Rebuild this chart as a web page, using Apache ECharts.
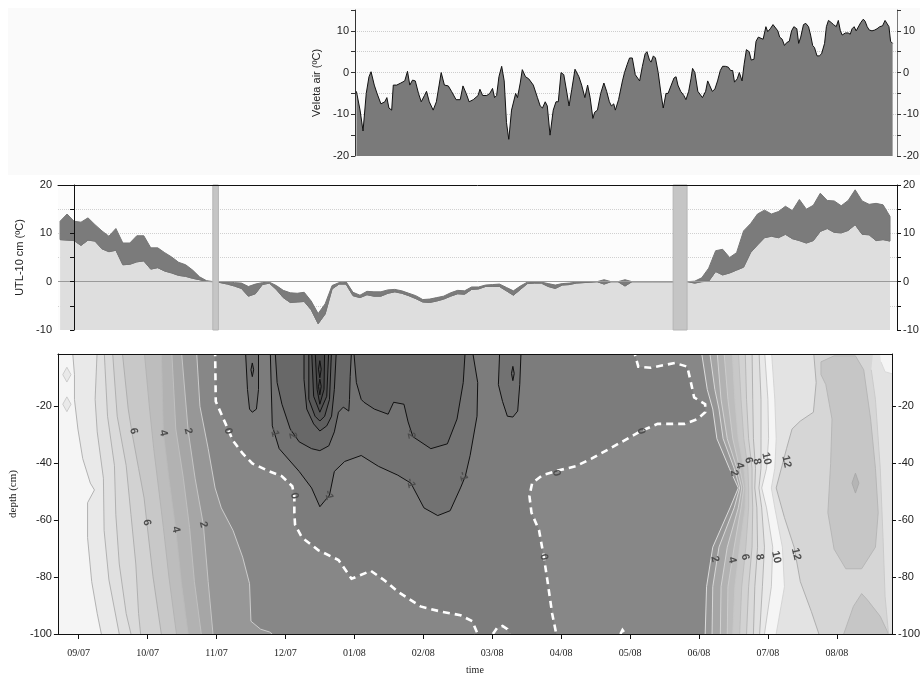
<!DOCTYPE html>
<html>
<head>
<meta charset="utf-8">
<script src="https://cdn.jsdelivr.net/npm/echarts@6/dist/echarts.min.js"></script>
<style>html,body{margin:0;padding:0;background:#fff}#c{width:923px;height:676px}</style>
</head>
<body>
<div id="c"></div>
<script>
// ---------------- axis ticks (x unit = months since 09/2007) ----------------
const monthTicks = [0,1,2,3,4,5,6,7,8,9,10,11];
const monthLabels = ['09/07','10/07','11/07','12/07','01/08','02/08','03/08','04/08','05/08','06/08','07/08','08/08'];
const depthTicks = [-100,-80,-60,-40,-20];

// ---------------- Veleta air temperature (days after start) ----------------
const veletaStartMonth = 4.05;
const veletaDay = [0,1.6,2.9,4.3,5.5,6.4,7.8,9.0,10.7,12.4,13.3,14.2,15.4,16.1,17.6,19.4,21.1,22.3,23.3,24.5,25.7,27.1,28.3,29.7,30.6,31.8,33.5,34.9,36.1,37.0,38.4,40.1,41.5,43.5,45.3,46.5,47.9,49.2,51.0,53.1,53.9,55.1,56.9,58.2,59.4,60.3,61.2,62.2,63.4,64.5,65.5,66.5,67.7,69.5,70.3,71.5,72.4,73.8,75.2,77.2,79.0,80.2,81.2,82.4,83.3,84.5,85.9,87.1,88.1,89.3,90.5,91.9,92.8,94.0,95.4,97.1,98.3,99.7,100.9,102.0,103.2,104.0,105.2,106.6,108.0,109.2,110.4,111.3,112.3,113.0,114.4,116.1,117.0,118.2,119.2,120.4,121.7,122.5,123.6,124.8,126.0,126.8,127.9,128.6,129.6,130.5,131.7,132.9,133.9,135.1,136.0,137.4,138.6,139.5,140.3,141.5,142.9,143.8,145.0,146.0,146.7,147.7,149.0,149.8,151.0,152.4,153.3,154.1,155.3,156.4,157.6,158.8,159.8,161.0,162.3,163.3,164.2,165.0,166.2,167.1,168.3,169.2,170.2,171.4,172.3,173.5,174.4,175.4,176.6,177.5,178.7,179.5,180.6,181.8,182.6,183.9,184.7,185.8,186.8,187.8,188.9,189.9,190.9,192.2,193.0,193.9,195.1,196.1,197.3,198.2,199.1,199.9,201.0,202.0,203.0,204.3,205.1,206.0,207.2,208.2,209.4,210.3,211.2,212.0,213.4,214.6,215.5,216.3,217.2,218.1,218.9,220.1,221.2,222.0,222.9,223.8,225.0,226.2,227.2,228.4,229.6,230.7,231.5,232.4,233.1,234.0];
const veletaTemp = [-4.5,-9,-14,-5,-1,0.2,-3,-5,-7.5,-7,-6,-8.5,-9,-3,-3,-2.5,-2,0.3,-3,-1.8,-2,-5,-7,-5.5,-4.5,-7,-9,-7,-3,0,-3,-3.2,-4.5,-6.5,-6.5,-3.2,-5,-7,-6.5,-5.5,-4,-5.5,-5.5,-5,-3.8,-6,-5.5,-1,1.5,-2,-12,-16,-9,-5,-6,-2.5,0.7,-1,-1.5,-3,-6,-8,-8.5,-7,-8,-15,-9,-7,-7,0,-0.5,-5,-8,-4,0.8,-1,-3,-6,-3,-6,-11,-9.5,-9,-5,-2.5,-4.5,-7,-8,-7.5,-9,-6.5,-2,0,2,3.5,3.5,-0.5,-0.5,-2,1.5,4.5,5,3,2.5,4,3.5,0,-5,-8.5,-5,-5,-3,-1.3,-1,-3,-4.5,-5.5,-6.5,-4.5,-1.5,1,0,-4.5,-4.5,-6,-4.5,-2,-3,-4.5,-4,-2,0.5,1.5,1.5,1.3,0.5,0.5,-2.3,-1.5,0,-2,2,5.5,5,3,3.2,7.5,8.5,8.2,8,11,9.8,10.5,11.5,11.5,10,8.5,8,6.5,7.2,7.5,10,11,10.5,7,8.5,11.5,11.8,11,9,6.5,6,4,4,4.5,7,11,12.5,12,11.5,11,12.5,10,9,9.5,9.5,9.2,10.5,11,10,10.2,12,12.8,12.3,11,10.2,10,10.2,10.5,11,11.2,12.5,12.8,11,7.5,7];

// ---------------- UTL -10 cm : daily-cycle envelope ----------------
const utlStartMonth = -0.2;
const utlStepMonth = 0.1;
const utlHigh = [12.5,14.0,12.5,12.3,13.2,11.8,10.5,9.4,11.0,8.0, 8.0,9.5,9.5,7.0,7.0,6.0,5.1,4.0,3.5,2.4, 1.0,0.2,0,0,0,-0.2,-0.3,-1.0,-0.5,-0.2, -0.1,-0.8,-1.8,-2.3,-2.4,-2.2,-4.0,-6.6,-4.6,-0.8, -0.2,0,-2.2,-2.8,-2.0,-2.1,-2.1,-1.7,-1.6,-1.9, -2.4,-2.9,-3.7,-3.6,-3.3,-3.0,-2.3,-1.8,-1.9,-1.1, -1.1,-0.7,-0.6,-0.5,-1.2,-1.9,-0.9,-0.1,0,-0.1, -0.4,-0.7,-0.4,-0.3,-0.1,0,0,0,0.4,0, 0,0.4,0,0,0,0,0,0,0,0, 0,0.1,0.8,2.8,6.4,6.7,5.0,6.0,10.5,12.0, 14.0,14.8,14.0,14.5,15.6,14.7,17.0,15.0,15.8,18.3, 16.8,16.7,15.7,16.8,19.0,16.7,16.0,16.2,15.9,13.5];
const utlLow = [8.7,8.6,8.5,7.5,8.6,8.4,6.8,6.2,6.5,3.5, 3.6,4.1,4.3,2.6,2.9,2.2,1.8,1.3,1.1,0.7, 0.4,0.05,0,-0.2,-0.5,-0.9,-1.4,-3.0,-2.5,-0.6, -0.3,-1.6,-3.3,-4.3,-4.2,-4.1,-5.8,-8.7,-6.7,-1.5, -0.5,-0.5,-2.9,-3.3,-2.7,-3.0,-3.0,-2.4,-2.1,-2.4, -2.9,-3.5,-4.2,-4.3,-4.0,-3.6,-3.0,-2.5,-2.6,-1.6, -1.5,-1.0,-1.0,-1.0,-1.9,-2.8,-1.6,-0.4,-0.3,-0.3, -1.0,-1.4,-0.7,-0.6,-0.3,-0.2,-0.1,0,-0.5,0, 0,-0.9,0,0,0,0,0,0,0,0, 0,-0.3,0,0.1,2.1,1.4,1.8,2.4,3.0,6.0, 7.6,9.1,9.4,9.1,9.8,8.9,8.5,8.0,8.5,10.4, 11.0,10.2,10.1,10.6,11.8,9.8,9.7,8.5,8.7,8.4];
const gapBands = [[1.99,2.07],[8.59,8.79]];

// ---------------- soil temperature isotherms [month, depth cm] ----------------
const iso12 = [[10.66,0],[10.70,-11.7],[10.66,-22.1],[10.47,-25.2],[10.35,-28],[10.27,-34.9],[10.12,-48.7],[10.24,-59.1],[10.38,-69.5],[10.47,-81.6],[10.63,-92.1],[10.74,-100]];
const iso11 = [[10.05,0],[10.10,-17.6],[10.12,-31.4],[10.10,-41.8],[10.05,-48.7],[10.10,-55.7],[10.21,-69.5],[10.24,-83.4],[10.12,-100]];
const iso10r = [[9.95,0],[10.00,-17.6],[10.01,-31.4],[9.98,-41.8],[9.91,-48.7],[9.98,-55.7],[10.07,-69.5],[10.05,-83.4],[9.95,-100]];
const iso9r = [[9.87,0],[9.90,-17.6],[9.90,-31.4],[9.90,-41.8],[9.87,-48.7],[9.91,-55.7],[9.95,-69.5],[9.92,-83.4],[9.88,-100]];
const iso8r = [[9.77,0],[9.78,-17.6],[9.79,-31.4],[9.82,-41.8],[9.81,-48.7],[9.84,-55.7],[9.85,-69.5],[9.81,-83.4],[9.79,-100]];
const iso7r = [[9.67,0],[9.69,-17.6],[9.72,-31.4],[9.77,-41.8],[9.77,-48.7],[9.78,-55.7],[9.77,-69.5],[9.72,-83.4],[9.69,-100]];
const iso6r = [[9.57,0],[9.61,-17.6],[9.65,-31.4],[9.71,-41.8],[9.72,-48.7],[9.72,-55.7],[9.68,-69.5],[9.62,-83.4],[9.59,-100]];
const iso5r = [[9.48,0],[9.52,-17.6],[9.57,-31.4],[9.65,-41.8],[9.68,-48.7],[9.67,-55.7],[9.59,-69.5],[9.52,-83.4],[9.49,-100]];
const iso4r = [[9.36,0],[9.42,-17.6],[9.49,-31.4],[9.59,-41.8],[9.65,-48.7],[9.61,-55.7],[9.51,-69.5],[9.42,-83.4],[9.41,-100]];
const iso3r = [[9.26,0],[9.32,-17.6],[9.41,-31.4],[9.55,-41.8],[9.62,-48.7],[9.57,-55.7],[9.41,-69.5],[9.32,-83.4],[9.31,-100]];
const iso2r = [[9.15,0],[9.23,-14.1],[9.29,-21.0],[9.35,-31.4],[9.51,-41.8],[9.59,-48.7],[9.51,-55.7],[9.29,-69.5],[9.20,-83.4],[9.19,-100]];
const iso1r = [[9.03,0],[9.12,-14.1],[9.20,-21.0],[9.26,-31.4],[9.44,-41.8],[9.57,-48.7],[9.45,-55.7],[9.20,-69.5],[9.11,-83.4],[9.09,-100]];
const zeroRight = [[8.05,0],[8.12,-6.1],[8.30,-6.5],[8.65,-4.8],[8.83,-6.1],[8.88,-11.3],[8.93,-16.9],[9.09,-19.3],[9.09,-22.1],[8.98,-24.5],[8.79,-26.2],[8.40,-26.2],[8.16,-28.7],[7.83,-33.2],[7.44,-38.4],[7.21,-41.1],[6.97,-42.5],[6.73,-44.2],[6.58,-47.0],[6.54,-51.5],[6.57,-57.4],[6.68,-63.6],[6.75,-73.0],[6.80,-81.0],[6.87,-92.8],[6.93,-100]];
const zeroLeft = [[1.98,0],[1.99,-18.3],[2.09,-23.8],[2.24,-32.1],[2.38,-36.6],[2.52,-40.1],[2.77,-42.9],[2.95,-44.6],[3.10,-48.1],[3.13,-51.5],[3.13,-57.4],[3.14,-61.6],[3.24,-66.1],[3.48,-70.6],[3.77,-74.0],[3.96,-80.6],[4.24,-77.8],[4.43,-81.0],[4.63,-85.1],[4.96,-90.3],[5.25,-92.1],[5.54,-93.4],[5.71,-95.5],[5.79,-100]];
const zeroBump = [[6.01,-100],[6.07,-97.9],[6.15,-97.2],[6.22,-98.3],[6.25,-100]];
const zeroBump2 = [[7.86,-100],[7.89,-98.6],[7.93,-100]];
const iso1l = [[1.71,0],[1.76,-20.0],[1.88,-34.9],[1.98,-48.7],[2.07,-55.7],[2.24,-63.6],[2.38,-73.0],[2.48,-82.3],[2.50,-95.5],[2.64,-98.3],[2.77,-99.3],[2.81,-100]];
const iso2l = [[1.49,0],[1.59,-28.7],[1.69,-45.3],[1.81,-61.6],[1.88,-81.6],[1.95,-100]];
const iso3l = [[1.35,0],[1.41,-28.0],[1.52,-45.3],[1.61,-62.6],[1.68,-81.6],[1.78,-100]];
const iso4l = [[1.20,0],[1.23,-29.4],[1.31,-45.3],[1.41,-63.3],[1.49,-81.6],[1.59,-100]];
const iso5l = [[0.95,0],[1.03,-21.0],[1.09,-34.9],[1.16,-48.7],[1.23,-62.6],[1.31,-79.9],[1.42,-100]];
const iso6l = [[0.63,0],[0.72,-21.0],[0.77,-28.7],[0.87,-41.8],[0.95,-52.2],[0.99,-60.9],[1.08,-79.9],[1.20,-100]];
const iso7l = [[0.49,0],[0.56,-23.5],[0.69,-40.8],[0.76,-58.1],[0.83,-75.4],[0.87,-92.8],[0.90,-100]];
const iso8l = [[0.37,0],[0.42,-23.5],[0.52,-40.8],[0.54,-58.1],[0.59,-75.4],[0.69,-92.8],[0.76,-100]];
const iso9l = [[0.27,0],[0.24,-17.6],[0.27,-29.0],[0.36,-45.3],[0.37,-63.6],[0.44,-81.0],[0.59,-100]];
const iso10l = [[-0.09,0],[-0.06,-8.9],[-0.06,-17.6],[-0.01,-28.0],[0.06,-38.4],[0.17,-47.0],[0.23,-49.4],[0.13,-53.9],[0.13,-66.1],[0.19,-81.6],[0.27,-92.8],[0.33,-100]];
const negBig = [[2.78,0],[2.81,-26.9],[2.91,-34.9],[3.20,-42.9],[3.38,-48.7],[3.50,-55.3],[3.64,-51.2],[3.71,-42.9],[3.86,-39.4],[4.10,-37.3],[4.35,-41.1],[4.63,-44.2],[4.82,-47.0],[5.01,-55.7],[5.21,-58.4],[5.39,-56.7],[5.54,-48.7],[5.61,-44.6],[5.68,-37.3],[5.78,-23.5],[5.79,-11.7],[5.71,0]];
const negLoopA = [[2.42,0],[2.45,-14.1],[2.48,-21.0],[2.52,-22.1],[2.58,-21.0],[2.61,-14.1],[2.61,0]];
const negLoopB = [[6.11,0],[6.09,-12.4],[6.15,-18.3],[6.22,-23.5],[6.30,-23.8],[6.37,-21.7],[6.40,-12.4],[6.42,0]];
const negDotA = [[2.50,-7.2],[2.52,-9.6],[2.54,-7.2],[2.52,-4.8]];
const negDotB = [[6.28,-8.5],[6.30,-11.0],[6.32,-8.5],[6.30,-6.0]];
const neg2Left = [[2.85,0],[2.88,-11.7],[2.95,-19.3],[3.07,-28.0],[3.20,-32.5],[3.38,-34.9],[3.50,-35.6],[3.63,-33.9],[3.71,-29.0],[3.77,-22.1],[3.84,-20.3],[3.92,-21.7],[3.93,-17.6],[3.94,-9.6],[3.96,0]];
const neg2Right = [[3.99,0],[4.03,-11.7],[4.10,-17.6],[4.14,-18.6],[4.29,-21.0],[4.49,-22.8],[4.57,-18.6],[4.72,-19.3],[4.78,-25.5],[4.85,-30.7],[5.11,-34.9],[5.35,-33.2],[5.49,-24.5],[5.58,-11.7],[5.61,0]];
const neg3 = [[3.27,0],[3.27,-10.6],[3.31,-21.0],[3.41,-26.2],[3.50,-28.7],[3.60,-26.9],[3.67,-23.5],[3.71,-14.1],[3.74,0]];
const neg4 = [[3.34,0],[3.34,-17.6],[3.43,-23.5],[3.50,-25.2],[3.57,-23.5],[3.64,-17.6],[3.67,0]];
const neg5 = [[3.38,0],[3.41,-16.5],[3.50,-22.1],[3.60,-16.5],[3.63,0]];
const neg6 = [[3.43,0],[3.46,-14.1],[3.50,-19.3],[3.56,-14.1],[3.57,0]];
const neg7a = [[3.48,-7],[3.50,-10],[3.52,-7],[3.50,-4]];
const neg7b = [[3.48,-13],[3.50,-16],[3.52,-13],[3.50,-10.5]];
const warmBlobA = [[10.77,-4.4],[10.96,-2.3],[11.27,-2.3],[11.39,-7.2],[11.49,-24.5],[11.56,-41.8],[11.60,-57.4],[11.56,-69.5],[11.36,-77.1],[11.13,-77.1],[10.96,-70.2],[10.87,-57.4],[10.91,-40.1],[10.93,-24.5],[10.84,-12.4],[10.77,-8.9]];
const warmDot = [[11.22,-47],[11.27,-50.5],[11.32,-47],[11.27,-43.5]];
const warmBlobB = [[11.10,-100],[11.24,-90.3],[11.36,-85.8],[11.44,-87.9],[11.63,-93.8],[11.75,-100]];
const edgeStrip = [[11.53,0],[11.85,0],[11.85,-100],[11.75,-100],[11.70,-86.8],[11.67,-66.1],[11.63,-41.8],[11.56,-17.6],[11.50,-7.2]];
const edgeWarm = [[11.62,0],[11.85,0],[11.85,-8.9],[11.70,-7.9],[11.64,-4.4]];
const coolDotA = [[-0.23,-8.9],[-0.17,-6.3],[-0.11,-8.9],[-0.17,-11.5]];
const coolDotB = [[-0.23,-19.3],[-0.17,-16.7],[-0.11,-19.3],[-0.17,-21.9]];
const contourLabels = [[0.80,-28.7,'6'],[1.23,-29.4,'4'],[1.59,-28.7,'2'],[2.17,-28.7,'0'],[0.99,-60.9,'6'],[1.41,-63.3,'4'],[1.81,-61.6,'2'],
  [2.84,-29.0,'-1'],[3.10,-29.7,'-2'],[3.13,-51.5,'0'],[3.63,-51.2,'-1'],[4.82,-29.7,'-2'],[4.82,-47.0,'-1'],[5.58,-44.6,'-1'],
  [8.16,-28.7,'0'],[6.93,-43.5,'0'],[6.75,-73.0,'0'],
  [9.51,-43.5,'2'],[9.59,-40.8,'4'],[9.72,-39.0,'6'],[9.84,-39.4,'8'],[9.98,-38.4,'10'],[10.27,-39.4,'12'],
  [9.23,-73.7,'2'],[9.48,-74.0,'4'],[9.67,-73.0,'6'],[9.88,-73.0,'8'],[10.12,-73.0,'10'],[10.41,-71.9,'12']];

// ---------------- styles ----------------
const bandFill = {'-7':'#474747','-6':'#4f4f4f','-5':'#575757','-4':'#5f5f5f','-3':'#686868','-2':'#727272','-1':'#7c7c7c','0':'#878787','1':'#979797','2':'#a6a6a6','3':'#b2b2b2','4':'#bdbdbd','5':'#c8c8c8','6':'#d2d2d2','7':'#dadada','8':'#e0e0e0','9':'#e9e9e9','10':'#f5f5f5','11':'#e3e3e3','12':'#d6d6d6','13':'#c6c6c6','14':'#b5b5b5'};
const leftFills = [[iso12,'11'],[iso11,'10'],[iso10r,'9'],[iso9r,'8'],[iso8r,'7'],[iso7r,'6'],[iso6r,'5'],[iso5r,'4'],[iso4r,'3'],[iso3r,'2'],[iso2r,'1'],[iso1r,'0'],[zeroRight,'-1'],[zeroLeft,'0'],[iso1l,'1'],[iso2l,'2'],[iso3l,'3'],[iso4l,'4'],[iso5l,'5'],[iso6l,'6'],[iso7l,'7'],[iso8l,'8'],[iso9l,'9'],[iso10l,'10']];
const closedFills = [[negBig,'-2'],[negLoopA,'-2'],[negLoopB,'-2'],[negDotA,'-3'],[negDotB,'-3'],[neg2Left,'-3'],[neg2Right,'-3'],[neg3,'-4'],[neg4,'-5'],[neg5,'-6'],[neg6,'-7'],[neg7a,'-7'],[neg7b,'-7'],[zeroBump,'0'],[warmBlobA,'13'],[warmDot,'14'],[warmBlobB,'13'],[edgeStrip,'11'],[edgeWarm,'10'],[coolDotA,'9'],[coolDotB,'9']];
const contourLines = [
  [iso12,'#a9a9a9'],[iso11,'#d2d2d2'],[iso10r,'#c4c4c4'],[iso9r,'#b0b0b0'],[iso8r,'#acacac'],[iso7r,'#b4b4b4'],[iso6r,'#bcbcbc'],[iso5r,'#c6c6c6'],[iso4r,'#cecece'],[iso3r,'#d6d6d6'],[iso2r,'#dedede'],[iso1r,'#e4e4e4'],
  [iso1l,'#d4d4d4'],[iso2l,'#cacaca'],[iso3l,'#c2c2c2'],[iso4l,'#bababa'],[iso5l,'#b2b2b2'],[iso6l,'#ababab'],[iso7l,'#ababab'],[iso8l,'#ababab'],[iso9l,'#ababab'],[iso10l,'#ababab'],
  [warmBlobA,'#b4b4b4'],[warmDot,'#a8a8a8'],[warmBlobB,'#b4b4b4'],[edgeStrip,'#c8c8c8'],[edgeWarm,'#d8d8d8'],[coolDotA,'#c8c8c8'],[coolDotB,'#c8c8c8'],
  [negBig,'#111'],[negLoopA,'#111'],[negLoopB,'#111'],[negDotA,'#111'],[negDotB,'#111'],[neg2Left,'#111'],[neg2Right,'#111'],[neg3,'#111'],[neg4,'#111'],[neg5,'#111'],[neg6,'#111'],[neg7a,'#111'],[neg7b,'#111']];
const closedSet = new Set([warmBlobA,warmDot,negDotA,negDotB,neg7a,neg7b,coolDotA,coolDotB]);
const zeroLines = [zeroLeft, zeroRight, zeroBump, zeroBump2];

function renderContours(params, api) {
  const C = p => api.coord(p);
  const kids = [];
  const poly = (pts, fill) => kids.push({type:'polygon', silent:true, shape:{points:pts}, style:{fill:fill, stroke:null}});
  poly([[-2,1],[13,1],[13,-102],[-2,-102]].map(C), bandFill['12']);
  leftFills.forEach(([curve, key]) => {
    const pts = curve.map(C);
    pts.push(C([-2,-102]));
    pts.push(C([-2,1]));
    poly(pts, bandFill[key]);
  });
  closedFills.forEach(([shape, key]) => poly(shape.map(C), bandFill[key]));
  contourLines.forEach(([curve, col]) => {
    const pts = curve.map(C);
    if (closedSet.has(curve)) pts.push(pts[0]);
    kids.push({type:'polyline', silent:true, shape:{points:pts}, style:{stroke:col, lineWidth: col === '#111' ? 1 : 0.9, fill:null}});
  });
  zeroLines.forEach(curve => {
    kids.push({type:'polyline', silent:true, shape:{points:curve.map(C)}, style:{stroke:'#ffffff', lineWidth:2.6, lineDash:[7,5], fill:null}});
  });
  contourLabels.forEach(([m, d, t]) => {
    const p = C([m, d]);
    kids.push({type:'text', silent:true, x:p[0], y:p[1], rotation:-1.35,
      style:{text:t, fill:'#4d4d4d', font:'bold 11px "Liberation Sans", Arial, sans-serif', align:'center', verticalAlign:'middle', textAlign:'center', textVerticalAlign:'middle'}});
  });
  const cs = params.coordSys;
  return {type:'group', clipPath:{type:'rect', shape:{x:cs.x, y:cs.y, width:cs.width, height:cs.height}}, children:kids};
}

function renderUtlBand(params, api) {
  const top = utlX.map((x, i) => api.coord([x, utlHigh[i]]));
  const bot = utlX.map((x, i) => api.coord([x, utlLow[i]])).reverse();
  return {type:'polygon', silent:true, shape:{points:top.concat(bot)}, style:{fill:'#7b7b7b', stroke:'#767676', lineWidth:1}};
}

const veletaData = veletaDay.map((d, i) => [veletaStartMonth + d / 30.44, veletaTemp[i]]);
const utlX = utlHigh.map((_, i) => +(utlStartMonth + i * utlStepMonth).toFixed(2));
const utlLowData = utlLow.map((v, i) => [utlX[i], v]);

const sans = '"Liberation Sans", Arial, sans-serif';
const serif = '"Liberation Serif", "Times New Roman", serif';
const lab = {color:'#222', fontSize:11, fontFamily:sans};
const tenFmt = v => (Math.abs(v % 10) < 1e-6 ? String(v) : '');
const gridAxis = (gi, min, max, col) => ({gridIndex:gi, type:'value', min:min, max:max, interval:5, z:0,
  axisLine:{show:false}, axisTick:{show:false}, axisLabel:{show:false},
  splitLine:{show:true, showMaxLine:false, showMinLine:false, lineStyle:{type:'dotted', color:col}}});

const chart = echarts.init(document.getElementById('c'));
chart.setOption({
  animation: false,
  backgroundColor: '#ffffff',
  graphic: [{type:'rect', z:-100, silent:true, shape:{x:8, y:8, width:912, height:167}, style:{fill:'#fafafa'}}],
  grid: [
    {left:355, right:26, top:10, height:146, show:true, backgroundColor:'#fbfbfb', borderWidth:0},
    {left:58, right:26, top:185, height:145, show:true, backgroundColor:'#fcfcfc', borderWidth:0},
    {left:53, right:26, top:354, height:284, show:false}
  ],
  xAxis: [
    {gridIndex:0, type:'value', min:4.03, max:11.80, show:false},
    {gridIndex:1, type:'value', min:-0.23, max:11.80, position:'top', z:10, axisLine:{show:true, onZero:false, lineStyle:{color:'#111', width:1}}, axisTick:{show:false}, axisLabel:{show:false}, splitLine:{show:false}},
    {gridIndex:2, type:'value', min:-0.30, max:11.80, position:'bottom', z:10,
      axisLine:{show:true, onZero:false, lineStyle:{color:'#111', width:1}},
      axisTick:{show:true, length:5, customValues:monthTicks, lineStyle:{color:'#111'}},
      axisLabel:{customValues:monthTicks, formatter:v => monthLabels[Math.round(v)], color:'#222', fontSize:10, fontFamily:serif, margin:14},
      splitLine:{show:false},
      name:'time', nameLocation:'middle', nameGap:31, nameTextStyle:{color:'#222', fontSize:10, fontFamily:serif}},
    {gridIndex:2, type:'value', min:-0.30, max:11.80, position:'top', z:10, axisLine:{show:true, onZero:false, lineStyle:{color:'#111', width:1}}, axisTick:{show:false}, axisLabel:{show:false}, splitLine:{show:false}}
  ],
  yAxis: [
    {gridIndex:0, type:'value', min:-20, max:15, interval:5, position:'left', z:10,
      axisLine:{show:true, lineStyle:{color:'#333'}}, axisTick:{show:true, length:4, lineStyle:{color:'#333'}},
      axisLabel:Object.assign({formatter:tenFmt, margin:6}, lab), splitLine:{show:false},
      name:'Veleta air (ºC)', nameLocation:'middle', nameGap:30, nameTextStyle:{color:'#222', fontSize:11, fontFamily:sans}},
    {gridIndex:0, type:'value', min:-20, max:15, interval:5, position:'right', z:10,
      axisLine:{show:true, lineStyle:{color:'#777'}}, axisTick:{show:true, length:4, lineStyle:{color:'#333'}},
      axisLabel:Object.assign({formatter:tenFmt, margin:6}, lab), splitLine:{show:false}},
    {gridIndex:1, type:'value', min:-10, max:20, interval:5, position:'left', z:10,
      axisLine:{show:true, lineStyle:{color:'#111'}}, axisTick:{show:true, length:4, lineStyle:{color:'#111'}},
      axisLabel:Object.assign({formatter:tenFmt, margin:6}, lab), splitLine:{show:false},
      name:'UTL-10 cm (ºC)', nameLocation:'middle', nameGap:32, nameTextStyle:{color:'#222', fontSize:11, fontFamily:sans}},
    {gridIndex:1, type:'value', min:-10, max:20, interval:5, position:'right', z:10,
      axisLine:{show:true, lineStyle:{color:'#111'}}, axisTick:{show:true, length:4, lineStyle:{color:'#111'}},
      axisLabel:Object.assign({formatter:tenFmt, margin:6}, lab), splitLine:{show:false}},
    {gridIndex:2, type:'value', min:-100, max:-1.65, position:'left', z:10,
      axisLine:{show:true, onZero:false, lineStyle:{color:'#111'}},
      axisTick:{show:true, length:4, customValues:depthTicks, lineStyle:{color:'#111'}},
      axisLabel:Object.assign({customValues:depthTicks, margin:6}, lab), splitLine:{show:false},
      name:'depth (cm)', nameLocation:'middle', nameGap:36, nameTextStyle:{color:'#222', fontSize:11, fontFamily:serif}},
    {gridIndex:2, type:'value', min:-100, max:-1.65, position:'right', z:10,
      axisLine:{show:true, onZero:false, lineStyle:{color:'#111'}},
      axisTick:{show:true, length:4, customValues:depthTicks, lineStyle:{color:'#111'}},
      axisLabel:Object.assign({customValues:depthTicks, margin:6}, lab), splitLine:{show:false}},
    gridAxis(0, -20, 15, '#cdcdcd'),
    gridAxis(1, -10, 20, '#d0d0d0')
  ],
  series: [
    {type:'line', xAxisIndex:0, yAxisIndex:0, data:veletaData, symbol:'none', smooth:false,
      lineStyle:{color:'#111', width:1}, areaStyle:{color:'#7a7a7a', opacity:1, origin:'start'}, z:3},
    {type:'line', xAxisIndex:1, yAxisIndex:2, data:utlLowData, symbol:'none',
      lineStyle:{color:'#777', width:1}, areaStyle:{color:'#dedede', opacity:1, origin:'start'}, z:3,
      markLine:{silent:true, symbol:['none','none'], label:{show:false}, lineStyle:{color:'#9a9a9a', type:'solid', width:1}, data:[{yAxis:0}]}},
    {type:'custom', xAxisIndex:1, yAxisIndex:2, data:[[5, 0]], z:4, silent:true, renderItem:renderUtlBand},
    {type:'custom', xAxisIndex:1, yAxisIndex:2, data:gapBands, z:8, silent:true,
      renderItem:(params, api) => {
        const a = api.coord([api.value(0), 20]);
        const b = api.coord([api.value(1), -10]);
        return {type:'rect', shape:{x:a[0], y:a[1], width:b[0]-a[0], height:b[1]-a[1]}, style:{fill:'#c5c5c5', stroke:'#b5b5b5', lineWidth:1}};
      }},
    {type:'custom', xAxisIndex:2, yAxisIndex:4, data:[[5, -50]], clip:true, silent:true, z:2, renderItem:renderContours}
  ]
});
</script>
</body>
</html>
